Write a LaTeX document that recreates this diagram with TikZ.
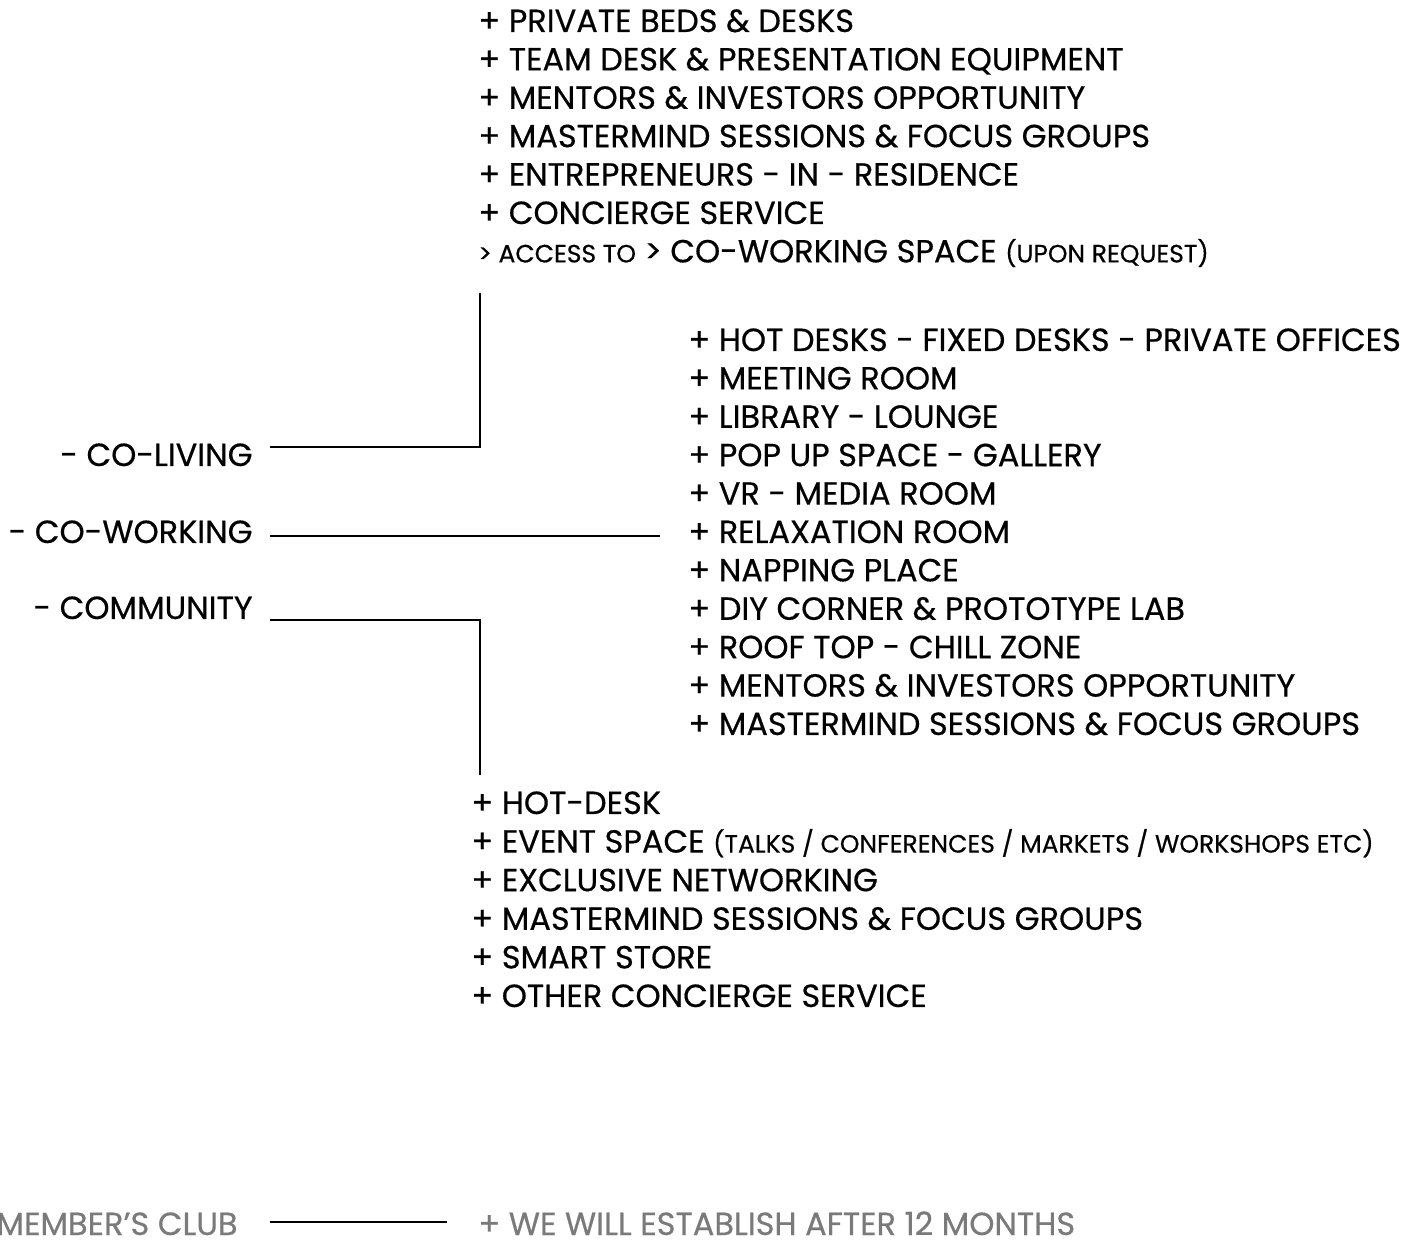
\documentclass[tikz,border=0pt]{standalone}
\usepackage{fontspec}
\setmainfont{Poppins}[UprightFeatures={FakeBold=0.5}]
\usetikzlibrary{positioning}
\definecolor{clubgray}{HTML}{7A7A7A}
\newcommand{\biglabel}{\fontsize{16}{18}\selectfont}
\newcommand{\smalllabel}{\fontsize{12.5}{14}\selectfont}
\tikzset{item/.style={anchor=base west,inner sep=0pt,font=\biglabel},
    side/.style={anchor=base east,inner sep=0pt,font=\biglabel},
    link/.style={line width=1.3pt},
    }

\begin{document}
\begin{tikzpicture}[x=0.5pt,y=-0.5pt]
	\useasboundingbox (0,0) rectangle (1426,1240);
	% co-living perks
	\foreach \t [count=\i from 0] in {+ PRIVATE BEDS \& DESKS,
		+ TEAM DESK \& PRESENTATION EQUIPMENT,
		+ MENTORS \& INVESTORS OPPORTUNITY,
		+ MASTERMIND SESSIONS \& FOCUS GROUPS,
		+ ENTREPRENEURS - IN - RESIDENCE,
		+ CONCIERGE SERVICE,
		{{\smalllabel > ACCESS TO} > CO-WORKING SPACE {\smalllabel (UPON REQUEST)}}}
		\node[item] (live\i) at (478,32+38.4*\i) {\t};
	% co-working perks
	\foreach \t [count=\i from 0] in {+ HOT DESKS - FIXED DESKS - PRIVATE OFFICES,
		+ MEETING ROOM,
		+ LIBRARY - LOUNGE,
		+ POP UP SPACE - GALLERY,
		+ VR - MEDIA ROOM,
		+ RELAXATION ROOM,
		+ NAPPING PLACE,
		+ DIY CORNER \& PROTOTYPE LAB,
		+ ROOF TOP - CHILL ZONE,
		+ MENTORS \& INVESTORS OPPORTUNITY,
		+ MASTERMIND SESSIONS \& FOCUS GROUPS}
		\node[item] (work\i) at (688,351+38.4*\i) {\t};
	% community perks
	\foreach \t [count=\i from 0] in {+ HOT-DESK,
		{+ EVENT SPACE {\smalllabel (TALKS / CONFERENCES / MARKETS / WORKSHOPS ETC)}},
		+ EXCLUSIVE NETWORKING,
		+ MASTERMIND SESSIONS \& FOCUS GROUPS,
		+ SMART STORE,
		+ OTHER CONCIERGE SERVICE}
		\node[item] (comm\i) at (471,814+38.6*\i) {\t};
	% the three branches
	\node[side] (coliving) at (253,466) {- CO-LIVING};
	\node[side] (coworking) at (253,543) {- CO-WORKING};
	\node[side] (community) at (253,619) {- COMMUNITY};
	\coordinate (liveend) at (480,293);
	\coordinate (workend) at (660,536);
	\coordinate (commend) at (480,775);
	\draw[link] (270,447) -| (liveend);
	\draw[link] (270,536) -- (workend);
	\draw[link] (270,620) -| (commend);
	% later
	\node[side,text=clubgray] (club) at (238,1235) {MEMBER’S CLUB};
	\node[item,text=clubgray] (later) at (478,1235) {+ WE WILL ESTABLISH AFTER 12 MONTHS};
	\coordinate (clubend) at (447,1222);
	\draw[link] (270,1222) -- (clubend);
\end{tikzpicture}
\end{document}
